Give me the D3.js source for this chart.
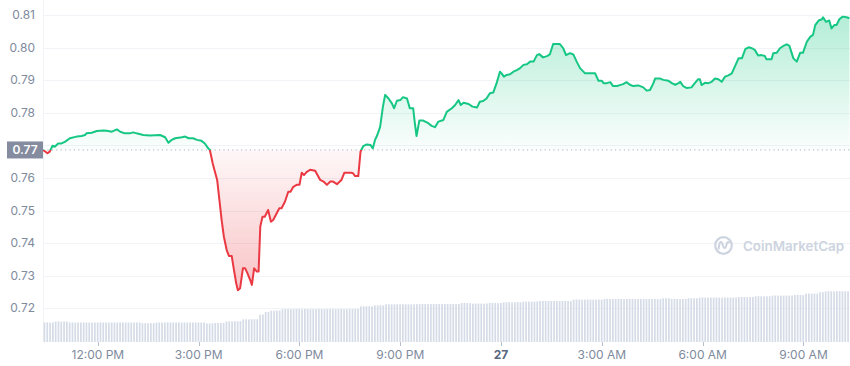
<!DOCTYPE html>
<html>
<head>
<meta charset="utf-8">
<script src="https://cdn.jsdelivr.net/npm/d3@7"></script>
<style>
  html, body { margin: 0; padding: 0; background: #fff; }
  #chart { width: 850px; height: 366px; }
  text { font-family: Inter, "Noto Sans", sans-serif; }
</style>
</head>
<body>
<div id="chart"></div>
<script>
// window start of the 24h view, prices keyed by minutes after it
const startTime = new Date(2023, 0, 26, 10, 22);

const priceMinutes = [
  0, 8, 12, 17, 21, 27, 33, 39, 48, 60, 69, 75, 78, 87, 96, 108, 114, 123, 132, 138,
  146, 155, 161, 167, 179, 191, 209, 218, 224, 230, 236, 248, 254, 260, 268, 275, 283, 289, 295, 298,
  303, 307, 311, 315, 319, 323, 328, 332, 337, 340, 345, 348, 352, 357, 361, 365, 370, 373, 377, 382,
  385, 388, 392, 396, 402, 407, 411, 416, 422, 426, 432, 438, 442, 447, 453, 458, 462, 466, 471, 477,
  486, 495, 501, 507, 513, 518, 525, 530, 533, 538, 551, 554, 557, 563, 567, 572, 578, 585, 589, 593,
  597, 602, 607, 611, 617, 623, 627, 632, 638, 643, 650, 655, 661, 664, 667, 672, 679, 688, 694, 700,
  706, 715, 721, 730, 736, 742, 746, 751, 760, 767, 775, 780, 786, 792, 798, 804, 810, 816, 819, 823,
  828, 834, 840, 846, 852, 858, 864, 870, 876, 882, 886, 893, 900, 905, 911, 923, 929, 934, 941, 947,
  953, 959, 968, 977, 986, 992, 998, 1001, 1007, 1013, 1018, 1025, 1030, 1036, 1042, 1048, 1054, 1063, 1072, 1078,
  1084, 1090, 1093, 1102, 1108, 1117, 1123, 1129, 1135, 1138, 1143, 1150, 1158, 1164, 1170, 1173, 1176, 1182, 1188, 1194,
  1200, 1206, 1212, 1218, 1224, 1230, 1236, 1242, 1248, 1254, 1260, 1266, 1271, 1277, 1283, 1289, 1292, 1301, 1304, 1310,
  1316, 1322, 1328, 1333, 1337, 1340, 1346, 1352, 1357, 1364, 1370, 1375, 1379, 1385, 1391, 1393, 1398, 1404, 1408, 1413,
  1417, 1422, 1428, 1435, 1440
];

const prices = [
  0.7686, 0.7676, 0.7681, 0.7699, 0.7696, 0.7706, 0.7706, 0.7711, 0.7722, 0.7727, 0.7729, 0.7732, 0.7737, 0.7739, 0.7744, 0.7746, 0.7745, 0.7742, 0.7749, 0.7742,
  0.7737, 0.7737, 0.7740, 0.7737, 0.7732, 0.7730, 0.7732, 0.7725, 0.7708, 0.7717, 0.7722, 0.7725, 0.7727, 0.7722, 0.7722, 0.7717, 0.7714, 0.7706, 0.7691, 0.7686,
  0.7645, 0.7619, 0.7594, 0.7533, 0.7471, 0.7420, 0.7379, 0.7361, 0.7361, 0.7328, 0.7277, 0.7256, 0.7262, 0.7323, 0.7323, 0.7308, 0.7287, 0.7272, 0.7323, 0.7313,
  0.7313, 0.7451, 0.7481, 0.7481, 0.7502, 0.7466, 0.7471, 0.7487, 0.7507, 0.7507, 0.7527, 0.7558, 0.7558, 0.7573, 0.7579, 0.7579, 0.7616, 0.7609, 0.7619, 0.7625,
  0.7622, 0.7594, 0.7589, 0.7579, 0.7589, 0.7589, 0.7581, 0.7589, 0.7594, 0.7616, 0.7616, 0.7614, 0.7606, 0.7606, 0.7681, 0.7698, 0.7703, 0.7701, 0.7691, 0.7717,
  0.7732, 0.7757, 0.7819, 0.7855, 0.7844, 0.7829, 0.7814, 0.7837, 0.7839, 0.7848, 0.7844, 0.7814, 0.7814, 0.7768, 0.7729, 0.7776, 0.7776, 0.7768, 0.7760, 0.7756,
  0.7773, 0.7778, 0.7803, 0.7814, 0.7824, 0.7839, 0.7824, 0.7831, 0.7827, 0.7819, 0.7816, 0.7834, 0.7836, 0.7844, 0.7860, 0.7862, 0.7891, 0.7926, 0.7921, 0.7911,
  0.7916, 0.7918, 0.7926, 0.7931, 0.7937, 0.7947, 0.7949, 0.7957, 0.7957, 0.7977, 0.7980, 0.7970, 0.7974, 0.7979, 0.8011, 0.8011, 0.7998, 0.7977, 0.7983, 0.7979,
  0.7957, 0.7937, 0.7921, 0.7921, 0.7921, 0.7898, 0.7898, 0.7891, 0.7891, 0.7894, 0.7882, 0.7882, 0.7885, 0.7888, 0.7894, 0.7886, 0.7882, 0.7884, 0.7878, 0.7868,
  0.7870, 0.7891, 0.7905, 0.7905, 0.7901, 0.7898, 0.7891, 0.7886, 0.7891, 0.7895, 0.7882, 0.7876, 0.7878, 0.7891, 0.7903, 0.7903, 0.7885, 0.7892, 0.7891, 0.7895,
  0.7905, 0.7903, 0.7895, 0.7911, 0.7915, 0.7921, 0.7944, 0.7967, 0.7967, 0.7995, 0.8001, 0.7998, 0.7993, 0.7976, 0.7977, 0.7974, 0.7964, 0.7964, 0.7983, 0.7984,
  0.7998, 0.8005, 0.8010, 0.8005, 0.7983, 0.7967, 0.7957, 0.7984, 0.7984, 0.8018, 0.8033, 0.8039, 0.8069, 0.8083, 0.8087, 0.8093, 0.8079, 0.8083, 0.8059, 0.8069,
  0.8069, 0.8087, 0.8095, 0.8093, 0.8090
];

// 24h volume (millions), one bar every 5 minutes, 12 per row
const volumes = [
  195, 196, 194, 195, 205, 206, 204, 205, 205, 195, 195, 194,
  195, 195, 196, 195, 194, 195, 195, 195, 196, 195, 195, 194,
  195, 195, 195, 196, 195, 195, 194, 195, 195, 195, 195, 188,
  188, 187, 188, 188, 195, 195, 194, 195, 196, 195, 195, 195,
  195, 194, 195, 195, 196, 195, 195, 195, 194, 195, 186, 186,
  186, 190, 190, 191, 190, 205, 207, 207, 208, 207, 208, 226,
  227, 226, 228, 227, 228, 274, 275, 300, 301, 313, 314, 315,
  315, 328, 329, 330, 328, 329, 330, 329, 328, 330, 329, 328,
  329, 328, 330, 329, 328, 329, 330, 329, 328, 329, 330, 329,
  328, 329, 330, 329, 330, 356, 357, 358, 357, 358, 367, 367,
  368, 367, 377, 376, 377, 378, 377, 376, 377, 378, 377, 376,
  377, 378, 380, 381, 380, 379, 380, 381, 380, 379, 380, 381,
  380, 379, 380, 381, 380, 390, 391, 390, 389, 384, 385, 384,
  384, 383, 385, 390, 391, 390, 389, 390, 397, 398, 397, 396,
  397, 398, 397, 404, 405, 404, 403, 404, 405, 410, 411, 410,
  409, 410, 411, 410, 409, 410, 411, 410, 409, 424, 425, 424,
  423, 424, 425, 424, 423, 424, 425, 424, 430, 431, 430, 429,
  430, 431, 430, 429, 430, 431, 430, 429, 430, 431, 430, 429,
  430, 431, 430, 429, 430, 437, 438, 437, 430, 431, 430, 429,
  430, 431, 437, 438, 437, 436, 444, 445, 444, 443, 444, 445,
  444, 443, 444, 445, 444, 443, 444, 445, 450, 451, 450, 449,
  450, 451, 457, 458, 457, 456, 457, 458, 464, 465, 464, 463,
  464, 465, 464, 465, 470, 471, 470, 469, 484, 485, 484, 485,
  484, 497, 498, 507, 508, 507, 506, 507, 508, 507, 508, 507
];

const yTicks = [0.72, 0.73, 0.74, 0.75, 0.76, 0.77, 0.78, 0.79, 0.80, 0.81];

const W = 850, H = 366;
const left = 43, right = 849.4;
const green = "#16c784", red = "#ea3943";

const toDate = (m) => new Date(startTime.getTime() + m * 60000);
const series = priceMinutes.map((m, i) => ({ t: toDate(m), v: prices[i] }));
const endTime = toDate(1440);
const base = prices[0];

const svg = d3.select("#chart").append("svg").attr("width", W).attr("height", H);

const x = d3.scaleTime().domain([startTime, endTime]).range([left, right]);
const y = d3.scaleLinear().domain([0.72, 0.81]).range([308.4, 15]);
const yVol = d3.scaleLinear().domain([0, 600]).range([342, 282]);
const baseY = y(base);

// grid
svg.append("g").selectAll("line").data(yTicks).join("line")
  .attr("x1", left).attr("x2", W)
  .attr("y1", d => Math.round(y(d)) + 0.5).attr("y2", d => Math.round(y(d)) + 0.5)
  .attr("stroke", "#f1f3f6");
svg.append("line").attr("x1", left + 0.5).attr("x2", left + 0.5).attr("y1", 0).attr("y2", 342)
  .attr("stroke", "#f1f3f6");

// y labels
svg.append("g").selectAll("text").data(yTicks.filter(d => Math.abs(y(d) - baseY) > 8)).join("text")
  .attr("x", 35).attr("y", d => y(d) + 4)
  .attr("text-anchor", "end").attr("font-size", 12).attr("fill", "#808a9d")
  .text(d3.format(".2f"));

// volume bars
const step = (right - left) / volumes.length;
svg.append("g").selectAll("rect").data(volumes).join("rect")
  .attr("x", (d, i) => left + i * step + 0.6)
  .attr("width", step - 1.1)
  .attr("y", d => yVol(d))
  .attr("height", d => yVol(0) - yVol(d))
  .attr("fill", "#d5dbe7");

// watermark
const wm = svg.append("g").attr("fill", "none").attr("stroke", "#cdd4e0");
wm.append("circle").attr("cx", 723.5).attr("cy", 245.5).attr("r", 8.3).attr("stroke-width", 2.2);
wm.append("path").attr("stroke-width", 2)
  .attr("d", "M718.5,249.5 L719.5,243.5 Q720.5,240.5 722,243 L723.5,247 Q725,249.5 726,246.5 L727,243 Q728,240.8 729.5,243");
svg.append("text").attr("x", 743).attr("y", 250.5)
  .attr("font-size", 13.4).attr("font-weight", 600).attr("fill", "#cdd4e0")
  .text("CoinMarketCap");

// gradients
const defs = svg.append("defs");
const gUp = defs.append("linearGradient").attr("id", "gUp").attr("gradientUnits", "userSpaceOnUse")
  .attr("x1", 0).attr("x2", 0).attr("y1", y(d3.max(prices))).attr("y2", baseY);
gUp.append("stop").attr("offset", 0).attr("stop-color", green).attr("stop-opacity", 0.32);
gUp.append("stop").attr("offset", 1).attr("stop-color", green).attr("stop-opacity", 0.02);
const gDown = defs.append("linearGradient").attr("id", "gDown").attr("gradientUnits", "userSpaceOnUse")
  .attr("x1", 0).attr("x2", 0).attr("y1", baseY).attr("y2", y(d3.min(prices)));
gDown.append("stop").attr("offset", 0).attr("stop-color", red).attr("stop-opacity", 0.04);
gDown.append("stop").attr("offset", 1).attr("stop-color", red).attr("stop-opacity", 0.3);

defs.append("clipPath").attr("id", "clipUp").append("rect")
  .attr("x", 0).attr("y", 0).attr("width", W).attr("height", baseY);
defs.append("clipPath").attr("id", "clipDown").append("rect")
  .attr("x", 0).attr("y", baseY).attr("width", W).attr("height", H - baseY);

const area = d3.area().x(d => x(d.t)).y0(baseY).y1(d => y(d.v));
const line = d3.line().x(d => x(d.t)).y(d => y(d.v));

svg.append("path").datum(series).attr("d", area).attr("fill", "url(#gUp)").attr("clip-path", "url(#clipUp)");
svg.append("path").datum(series).attr("d", area).attr("fill", "url(#gDown)").attr("clip-path", "url(#clipDown)");

// baseline
svg.append("line").attr("x1", left).attr("x2", W).attr("y1", baseY).attr("y2", baseY)
  .attr("stroke", "#a6b0c3").attr("stroke-dasharray", "1.2,3.2");

svg.append("path").datum(series).attr("d", line).attr("fill", "none")
  .attr("stroke", green).attr("stroke-width", 2).attr("stroke-linejoin", "round")
  .attr("clip-path", "url(#clipUp)");
svg.append("path").datum(series).attr("d", line).attr("fill", "none")
  .attr("stroke", red).attr("stroke-width", 2).attr("stroke-linejoin", "round")
  .attr("clip-path", "url(#clipDown)");

// baseline label
svg.append("rect").attr("x", 7).attr("y", baseY - 8.5).attr("width", 36).attr("height", 17)
  .attr("fill", "#858ca0");
svg.append("text").attr("x", 25).attr("y", baseY + 4.2).attr("text-anchor", "middle")
  .attr("font-size", 12).attr("font-weight", 600).attr("fill", "#fff")
  .text(d3.format(".2f")(base));

// x axis
const xTicks = x.ticks(d3.timeHour.every(3));
const xg = svg.append("g");
xg.selectAll("line").data(xTicks).join("line")
  .attr("x1", d => Math.round(x(d)) + 0.5).attr("x2", d => Math.round(x(d)) + 0.5)
  .attr("y1", 342).attr("y2", 346).attr("stroke", "#b8bfcc");
xg.selectAll("text").data(xTicks).join("text")
  .attr("x", d => x(d)).attr("y", 359).attr("text-anchor", "middle")
  .attr("font-size", 12)
  .attr("font-weight", d => d.getHours() === 0 ? 700 : 400)
  .attr("fill", d => d.getHours() === 0 ? "#58667e" : "#808a9d")
  .text(d => d.getHours() === 0 ? d3.timeFormat("%-d")(d) : d3.timeFormat("%-I:%M %p")(d));
</script>
</body>
</html>
